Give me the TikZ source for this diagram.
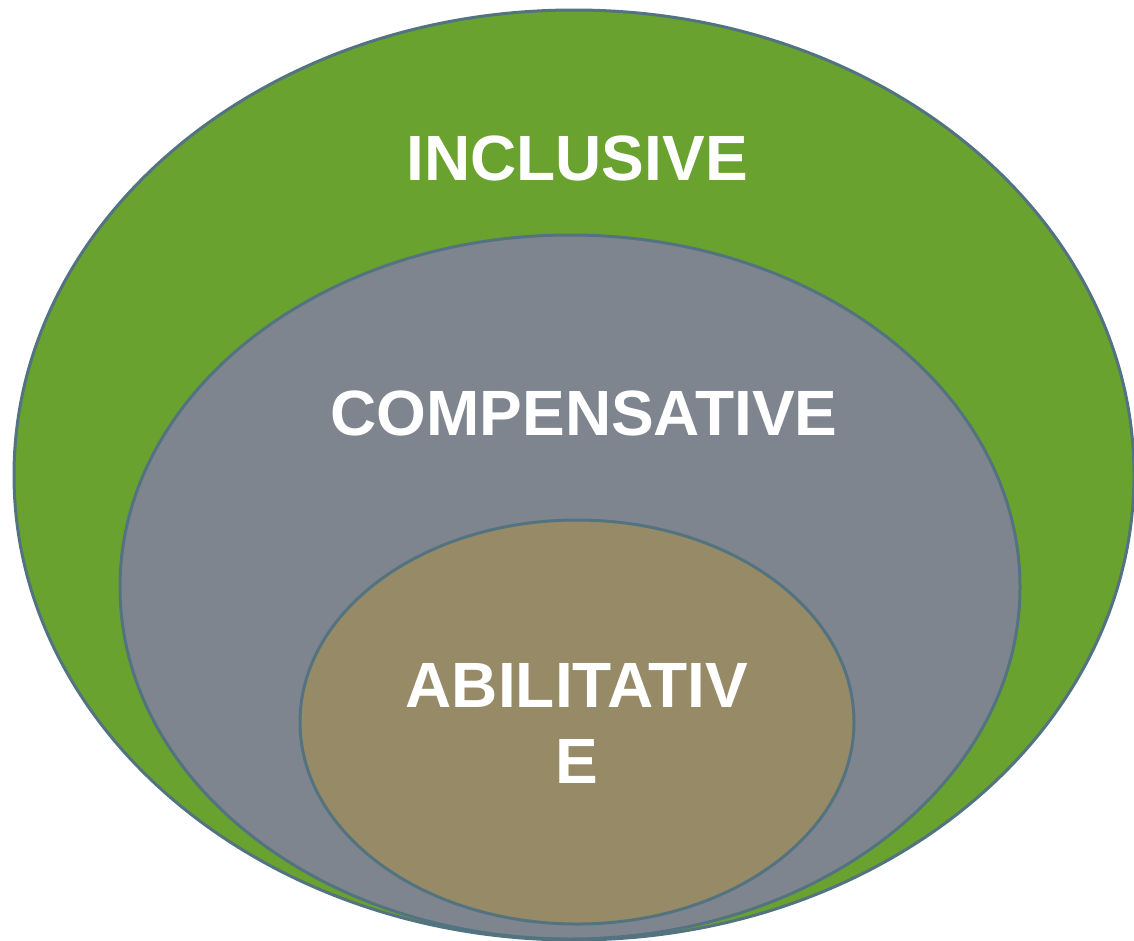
\documentclass[tikz,border=0pt]{standalone}
\usepackage{fontspec}
\setmainfont{Liberation Sans}
\usetikzlibrary{positioning}

\definecolor{ringgreen}{HTML}{6AA22F}
\definecolor{ringgray}{HTML}{7F858F}
\definecolor{ringtan}{HTML}{978A67}
\definecolor{ringline}{HTML}{52737F}

\tikzset{
  ring/.style={draw=ringline, line width=3pt},
  label/.style={text=white, font=\bfseries\fontsize{64}{76}\selectfont, align=center}
}

\begin{document}
\begin{tikzpicture}[x=1pt, y=-1pt]

\clip (0,0) rectangle (1134,940);

% Outer, middle and inner ellipses
\draw[ring, fill=ringgreen] (574,475) ellipse [x radius=560, y radius=465];
\draw[ring, fill=ringgray] (570,587) ellipse [x radius=450, y radius=352];
\draw[ring, fill=ringtan] (577,722) ellipse [x radius=277, y radius=202];

% Labels
\node[label] (inclusive) at (577,158) {INCLUSIVE};
\node[label] (compensative) at (584,413) {COMPENSATIVE};
\node[label] (abilitative) at (577,723) {ABILITATIV\\E};

\end{tikzpicture}
\end{document}
